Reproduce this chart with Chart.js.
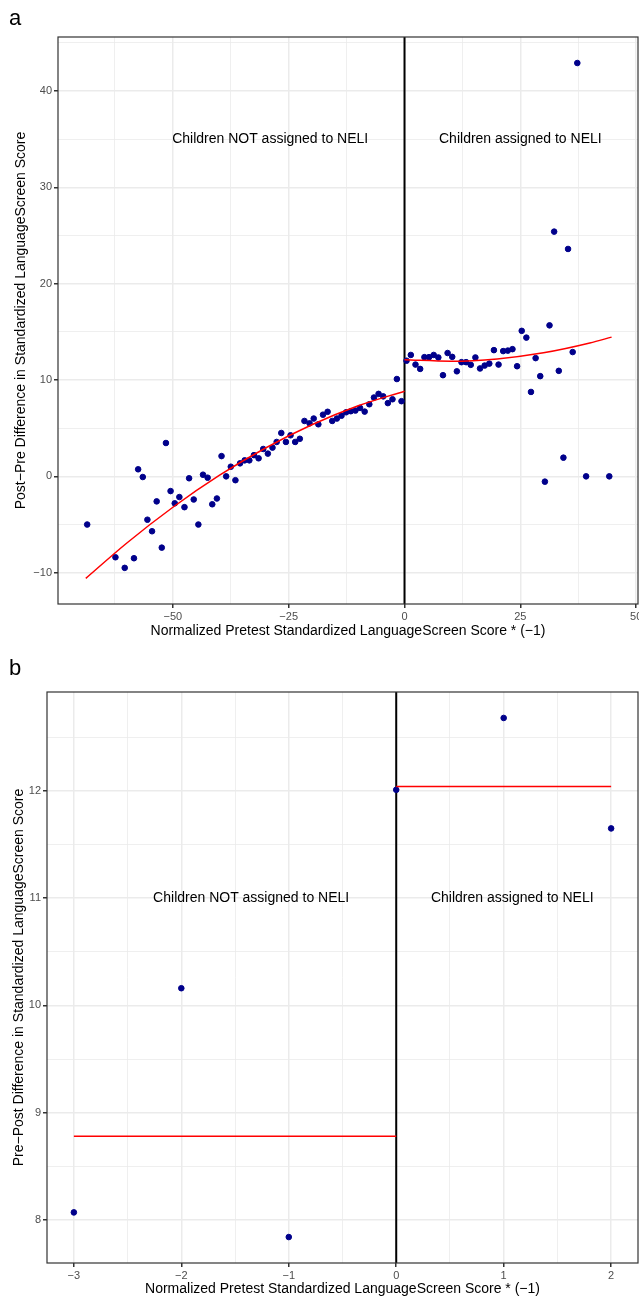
<!DOCTYPE html>
<html>
<head>
<meta charset="utf-8">
<script src="https://cdn.jsdelivr.net/npm/chart.js@4.4.0/dist/chart.umd.min.js"></script>
<style>
  body { margin: 0; background: #fff; }
  .panel { position: absolute; left: 0; width: 639px; height: 654px; }
</style>
</head>
<body>
<div class="panel" style="top:0"><canvas id="chartA" width="639" height="654"></canvas></div>
<div class="panel" style="top:654px"><canvas id="chartB" width="639" height="654"></canvas></div>
<script>
// Panel a: children, pretest score * (-1) vs post-pre difference
const xLeftA = [-68.5, -62.4, -60.4, -58.4, -57.5, -56.5, -55.5, -54.5, -53.5, -52.4,
  -51.5, -50.5, -49.6, -48.6, -47.5, -46.5, -45.5, -44.5, -43.5, -42.5,
  -41.5, -40.5, -39.5, -38.5, -37.5, -36.5, -35.5, -34.5, -33.5, -32.5,
  -31.5, -30.5, -29.5, -28.5, -27.6, -26.6, -25.6, -24.6, -23.6, -22.6,
  -21.6, -20.5, -19.6, -18.6, -17.6, -16.6, -15.6, -14.6, -13.6, -12.6,
  -11.6, -10.6, -9.6, -8.6, -7.6, -6.6, -5.6, -4.6, -3.6, -2.6, -1.65, -0.65];
const yLeftA = [-5.0, -8.4, -9.5, -8.5, 0.73, -0.07, -4.5, -5.7, -2.6, -7.4,
  3.46, -1.53, -2.8, -2.15, -3.2, -0.2, -2.4, -5.0, 0.17, -0.14,
  -2.9, -2.3, 2.1, 0.0, 1.0, -0.4, 1.35, 1.66, 1.66, 2.2,
  1.87, 2.84, 2.36, 2.98, 3.57, 4.5, 3.57, 4.26, 3.57, 3.9,
  5.75, 5.5, 6.0, 5.4, 6.4, 6.7, 5.75, 6.0, 6.3, 6.65,
  6.76, 6.83, 7.1, 6.72, 7.48, 8.18, 8.56, 8.3, 7.6, 8.0, 10.1, 7.8];
const xRightA = [0.43, 1.36, 2.37, 3.38, 4.3, 5.3, 6.3, 7.3, 8.3, 9.3,
  10.3, 11.3, 12.3, 13.3, 14.3, 15.3, 16.3, 17.3, 18.3, 19.3,
  20.3, 21.3, 22.3, 23.3, 24.3, 25.3, 26.3, 27.3, 28.3, 29.3,
  30.3, 31.3, 32.3, 33.3, 34.3, 35.3, 36.3, 37.3, 39.2, 44.2];
const yRightA = [12.0, 12.6, 11.6, 11.15, 12.37, 12.37, 12.6, 12.34, 10.5, 12.8,
  12.4, 10.9, 11.85, 11.85, 11.57, 12.34, 11.2, 11.5, 11.7, 13.1,
  11.6, 13.0, 13.05, 13.2, 11.43, 15.1, 14.4, 8.76, 12.27, 10.4,
  -0.55, 15.67, 25.4, 10.95, 1.94, 23.6, 12.9, 42.9, 0.0, 0.0];
// fitted curves
const fitLeftXA = [-68.8, -60, -50, -40, -30, -20, -10, 0];
const fitLeftYA = [-10.59, -6.94, -3.21, 0.09, 2.94, 5.35, 7.32, 8.84];
const fitRightXA = [0, 10, 20, 30, 40, 44.7];
const fitRightYA = [12.1, 11.95, 12.19, 12.82, 13.84, 14.45];
const xMajorA = [-50, -25, 0, 25, 50];
const xMinorA = [-62.5, -37.5, -12.5, 12.5, 37.5];
const yMajorA = [-10, 0, 10, 20, 30, 40];
const yMinorA = [-5, 5, 15, 25, 35, 45];

// Panel b: binned means
const xB = [-3, -2, -1, 0, 1, 2];
const yB = [8.07, 10.16, 7.84, 12.01, 12.68, 11.65];
const fitLeftXB = [-3, 0];
const fitLeftYB = [8.78, 8.78];
const fitRightXB = [0, 2];
const fitRightYB = [12.04, 12.04];
const xMajorB = [-3, -2, -1, 0, 1, 2];
const xMinorB = [-2.5, -1.5, -0.5, 0.5, 1.5];
const yMajorB = [8, 9, 10, 11, 12];
const yMinorB = [8.5, 9.5, 10.5, 11.5, 12.5];

const FONT = '"Liberation Sans", Arial, Helvetica, sans-serif';
const toPts = (xs, ys) => xs.map((x, i) => ({ x: x, y: ys[i] }));
const fmt = (v) => (v < 0 ? "\u2212" + Math.abs(v) : String(v));

// frame, zero line, annotations and panel tag
const panelDecor = {
  id: "panelDecor",
  beforeDatasetsDraw(chart) {
    const { ctx, chartArea, scales } = chart;
    const x0 = scales.x.getPixelForValue(0);
    ctx.save();
    ctx.strokeStyle = "#000";
    ctx.lineWidth = 2;
    ctx.beginPath();
    ctx.moveTo(x0, chartArea.top);
    ctx.lineTo(x0, chartArea.bottom);
    ctx.stroke();
    ctx.restore();
  },
  afterDraw(chart, args, opts) {
    const { ctx, chartArea, scales } = chart;
    ctx.save();
    ctx.fillStyle = "#000";
    ctx.font = "14px " + FONT;
    ctx.textAlign = "center";
    ctx.textBaseline = "middle";
    opts.notes.forEach((n) => {
      ctx.fillText(n.text, scales.x.getPixelForValue(n.x), scales.y.getPixelForValue(n.y));
    });
    ctx.strokeStyle = "#333333";
    ctx.lineWidth = 1.2;
    ctx.strokeRect(chartArea.left, chartArea.top, chartArea.right - chartArea.left, chartArea.bottom - chartArea.top);
    ctx.font = "22px " + FONT;
    ctx.textAlign = "left";
    ctx.textBaseline = "alphabetic";
    ctx.fillText(opts.tag, 9, opts.tagY);
    ctx.restore();
  },
};

function makeAxis(major, minor, min, max, extra) {
  const all = major.concat(minor).sort((a, b) => a - b);
  const isMajor = (v) => major.includes(v);
  return Object.assign({
    type: "linear",
    min: min,
    max: max,
    afterBuildTicks: (s) => { s.ticks = all.map((v) => ({ value: v })); },
    ticks: {
      autoSkip: false,
      maxRotation: 0,
      color: "#4d4d4d",
      font: { family: FONT, size: 11 },
      padding: 2,
      callback: (v) => (isMajor(v) ? fmt(v) : ""),
    },
    grid: {
      color: "#ebebeb",
      lineWidth: (c) => (c.tick && isMajor(c.tick.value) ? 1.5 : 0.8),
      tickColor: (c) => (c.tick && isMajor(c.tick.value) ? "#333333" : "rgba(0,0,0,0)"),
      tickLength: 4,
      drawTicks: true,
    },
    border: { display: false },
  }, extra);
}

function buildChart(id, cfg) {
  return new Chart(document.getElementById(id).getContext("2d"), {
    type: "scatter",
    data: {
      datasets: [
        { data: cfg.points, backgroundColor: "#00008B", borderColor: "#00008B", pointRadius: 2.8,
          borderWidth: 1, order: 2 },
        { data: cfg.fitL, showLine: true, borderColor: "#ff0000", borderWidth: 1.5, pointRadius: 0,
          cubicInterpolationMode: "monotone", order: 1 },
        { data: cfg.fitR, showLine: true, borderColor: "#ff0000", borderWidth: 1.5, pointRadius: 0,
          cubicInterpolationMode: "monotone", order: 1 },
      ],
    },
    options: {
      responsive: false,
      animation: false,
      layout: { autoPadding: false, padding: { top: cfg.top, right: 1, left: 0, bottom: 0 } },
      scales: {
        x: makeAxis(cfg.xMajor, cfg.xMinor, cfg.xMin, cfg.xMax, {
          title: { display: true, text: "Normalized Pretest Standardized LanguageScreen Score * (\u22121)",
            color: "#000", font: { family: FONT, size: 14 }, padding: { top: 0, bottom: cfg.xTitlePad } },
          afterFit: (s) => { s.height = cfg.xAxisH; s.paddingLeft = 0; s.paddingRight = 0; },
        }),
        y: makeAxis(cfg.yMajor, cfg.yMinor, cfg.yMin, cfg.yMax, {
          title: { display: true, text: cfg.yTitle,
            color: "#000", font: { family: FONT, size: 14 }, padding: { top: cfg.yTitlePad, bottom: 0 } },
          afterFit: (s) => { s.width = cfg.yAxisW; s.paddingTop = 0; s.paddingBottom = 0; },
        }),
      },
      plugins: {
        legend: { display: false },
        tooltip: { enabled: false },
        panelDecor: { notes: cfg.notes, tag: cfg.tag, tagY: cfg.tagY },
      },
    },
    plugins: [panelDecor],
  });
}

buildChart("chartA", {
  points: toPts(xLeftA, yLeftA).concat(toPts(xRightA, yRightA)),
  fitL: toPts(fitLeftXA, fitLeftYA),
  fitR: toPts(fitRightXA, fitRightYA),
  xMajor: xMajorA, xMinor: xMinorA, xMin: -74.8, xMax: 50.4,
  yMajor: yMajorA, yMinor: yMinorA, yMin: -13.25, yMax: 45.6,
  top: 37, xAxisH: 50, yAxisW: 58, xTitlePad: 14.6, yTitlePad: 12.6,
  yTitle: "Post\u2212Pre Difference in Standardized LanguageScreen Score",
  notes: [
    { text: "Children NOT assigned to NELI", x: -29, y: 35 },
    { text: "Children assigned to NELI", x: 25, y: 35 },
  ],
  tag: "a", tagY: 25,
});

buildChart("chartB", {
  points: toPts(xB, yB),
  fitL: toPts(fitLeftXB, fitLeftYB),
  fitR: toPts(fitRightXB, fitRightYB),
  xMajor: xMajorB, xMinor: xMinorB, xMin: -3.25, xMax: 2.25,
  yMajor: yMajorB, yMinor: yMinorB, yMin: 7.598, yMax: 12.922,
  top: 38, xAxisH: 45, yAxisW: 47, xTitlePad: 10.6, yTitlePad: 10.6,
  yTitle: "Pre\u2212Post Difference in Standardized LanguageScreen Score",
  notes: [
    { text: "Children NOT assigned to NELI", x: -1.35, y: 11 },
    { text: "Children assigned to NELI", x: 1.08, y: 11 },
  ],
  tag: "b", tagY: 21,
});
</script>
</body>
</html>
